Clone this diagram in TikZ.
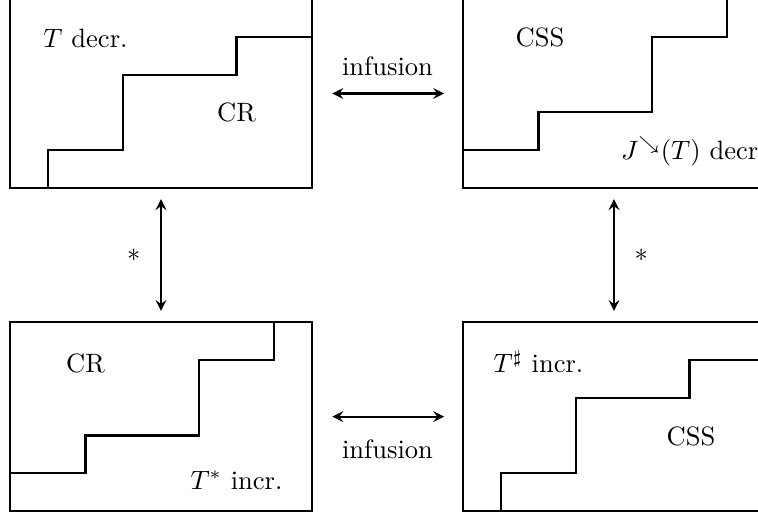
\documentclass[tikz,border=0pt]{standalone}
\usepackage{amsmath}
\usepackage{amssymb}

\begin{document}
\begin{tikzpicture}[thick,>=stealth,
  region/.style={draw,minimum width=4cm,minimum height=2.5cm,inner sep=0pt,outer sep=0pt},
  lab/.style={anchor=base}]
  \useasboundingbox (-0.132,-0.066) rectangle (9.907,6.768);
  \clip (-0.132,-0.066) rectangle (9.907,6.768);
  % the four regions
  \node[region] (tl) at (2,5.53) {};
  \node[region] (tr) at (8,5.53) {};
  \node[region] (bl) at (2,1.25) {};
  \node[region] (br) at (8,1.25) {};
  \begin{scope}[shift={(0,4.28)}]
   \draw (0.5,0) -- (0.5,0.5) -- (1.5,0.5) -- (1.5,1.5) -- (3,1.5) -- (3,2) -- (4,2);
   \node[lab] (tldecr) at (1,1.86) {$T$ decr.};
   \node[lab] (tlcr) at (3,0.88) {CR};
  \end{scope}
  \begin{scope}[shift={(6,4.28)}]
   \draw (0,0.5) -- (1,0.5) -- (1,1) -- (2.5,1) -- (2.5,2) -- (3.5,2) -- (3.5,2.5);
   \node[lab] (trcss) at (1.02,1.87) {CSS};
   \node[lab,anchor=base west,inner sep=0pt] (trdecr) at (2.08,0.38) {$J^{\searrow}(T)$ decr};
  \end{scope}
  \begin{scope}[shift={(0,0)}]
   \draw (0,0.5) -- (1,0.5) -- (1,1) -- (2.5,1) -- (2.5,2) -- (3.5,2) -- (3.5,2.5);
   \node[lab] (blcr) at (1,1.84) {CR};
   \node[lab] (blincr) at (3,0.29) {$T^*$ incr.};
  \end{scope}
  \begin{scope}[shift={(6,0)}]
   \draw (0.5,0) -- (0.5,0.5) -- (1.5,0.5) -- (1.5,1.5) -- (3,1.5) -- (3,2) -- (4,2);
   \node[lab] (brincr) at (1,1.83) {$T^\sharp$ incr.};
   \node[lab] (brcss) at (3.02,0.87) {CSS};
  \end{scope}
  % correspondences
  \draw[<->,shorten <=0.27cm,shorten >=0.25cm] (tl) -- (tr) node[midway,above=3pt] (inftop) {infusion};
  \draw[<->,shorten <=0.27cm,shorten >=0.25cm] (bl) -- (br) node[midway,below=5pt] (infbot) {infusion};
  \draw[<->,shorten <=0.15cm,shorten >=0.15cm] (tl) -- (bl) node[midway,left=4pt] (stl) {$*$};
  \draw[<->,shorten <=0.15cm,shorten >=0.15cm] (tr) -- (br) node[midway,right=4pt] (str) {$*$};
\end{tikzpicture}
\end{document}
